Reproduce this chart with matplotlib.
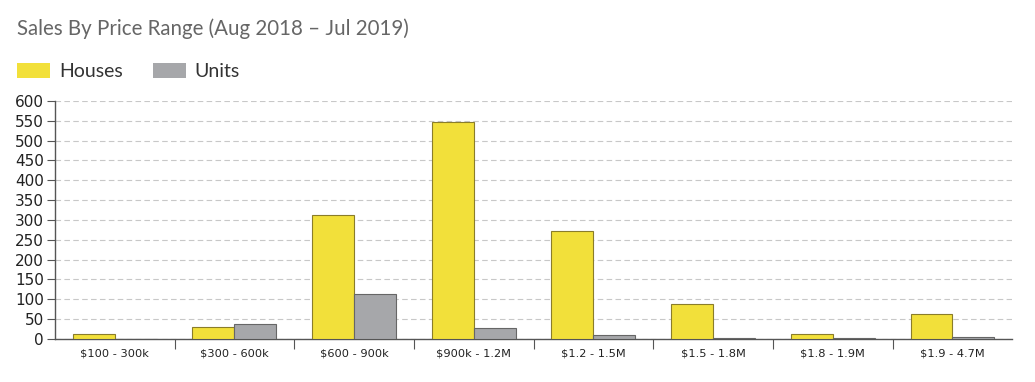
import numpy as np
import matplotlib.pyplot as plt
from matplotlib.patches import Patch

# Donnees
categories = ['$100 - 300k', '$300 - 600k', '$600 - 900k', '$900k - 1.2M',
              '$1.2 - 1.5M', '$1.5 - 1.8M', '$1.8 - 1.9M', '$1.9 - 4.7M']
houses = [12, 30, 312, 547, 272, 88, 13, 63]
units = [0, 38, 113, 28, 10, 2, 2, 5]
y_ticks = list(range(0, 601, 50))

jaune = '#F2E03A'
gris = '#A6A7AA'

fig = plt.figure(figsize=(10.35, 3.82), dpi=100)
ax = fig.add_axes([0.053, 0.113, 0.925, 0.623])

x = np.arange(len(categories))
w = 0.35
ax.bar(x - w / 2, houses, w, color=jaune, edgecolor='#8A7D2A', linewidth=0.8, zorder=3)
ax.bar(x + w / 2, units, w, color=gris, edgecolor='#666666', linewidth=0.8, zorder=3)

ax.set_xlim(-0.5, len(categories) - 0.5)
ax.set_ylim(0, 600)
ax.set_yticks(y_ticks)
ax.set_yticklabels([str(v) for v in y_ticks], fontsize=11, color='#222222')
ax.yaxis.grid(True, linestyle=(0, (5, 3)), color='#C8C8C8', linewidth=0.8, zorder=0)

# ticks aux separations, libelles au centre
ax.set_xticks(np.arange(0.5, len(categories) - 1, 1))
ax.set_xticklabels([])
ax.set_xticks(x, minor=True)
ax.set_xticklabels(categories, minor=True, fontsize=8.2, color='#222222')
ax.tick_params(axis='x', which='major', length=7, color='#555555', direction='out')
ax.tick_params(axis='x', which='minor', length=0, pad=7)
ax.tick_params(axis='y', length=6, color='#555555', pad=2)

for s in ['top', 'right']:
    ax.spines[s].set_visible(False)
for s in ['left', 'bottom']:
    ax.spines[s].set_color('#555555')
    ax.spines[s].set_linewidth(1)

fig.text(0.016, 0.924, 'Sales By Price Range (Aug 2018 \u2013 Jul 2019)', fontsize=14.8,
         color='#666666', family='Lato', va='center')

handles = [Patch(facecolor=jaune, edgecolor='none'), Patch(facecolor=gris, edgecolor='none')]
fig.legend(handles, ['Houses', 'Units'], loc='center left', bbox_to_anchor=(0.0164, 0.812),
           ncol=2, frameon=False, prop={'family': 'Lato', 'size': 14},
           labelcolor='#333333', borderpad=0, borderaxespad=0,
           handlelength=1.7, handleheight=0.78, handletextpad=0.46, columnspacing=1.55)

fig.savefig('out.png', dpi=100)
